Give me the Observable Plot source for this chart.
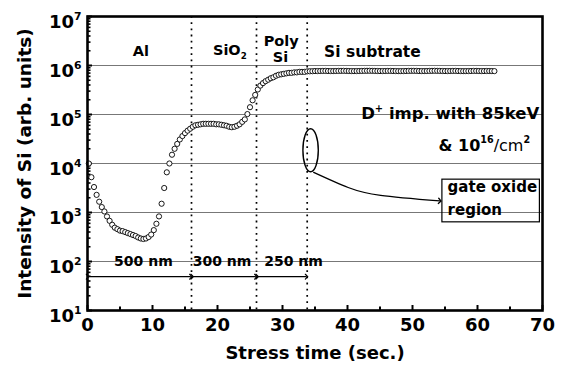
<!DOCTYPE html>
<html><head><meta charset="utf-8">
<script src="https://cdn.jsdelivr.net/npm/d3@7"></script>
<script src="https://cdn.jsdelivr.net/npm/@observablehq/plot@0.6"></script>
<style>
body{margin:0;background:#fff}
#chart svg{display:block}
</style></head><body><div id="chart"></div>
<script>
// Stress time (s) and Si intensity (arb. units)
const times = [0.2,0.6,1.0,1.4,1.8,2.2,2.6,3.0,3.4,3.8,4.2,4.6,5.0,5.4,5.8,6.2,6.6,7.0,7.4,7.8,
8.2,8.6,9.0,9.4,9.8,10.2,10.6,11.0,11.4,11.8,12.2,12.6,13.0,13.4,13.8,14.2,14.6,15.0,15.4,15.8,
16.2,16.6,17.0,17.4,17.8,18.2,18.6,19.0,19.4,19.8,20.2,20.6,21.0,21.4,21.8,22.2,22.6,23.0,23.4,23.8,
24.2,24.6,25.0,25.4,25.8,26.2,26.6,27.0,27.4,27.8,28.2,28.6,29.0,29.4,29.8,30.2,30.6,31.0,31.4,31.8,
32.2,32.6,33.0,33.4,33.8,34.2,34.6,35.0,35.4,35.8,36.2,36.6,37.0,37.4,37.8,38.2,38.6,39.0,39.4,39.8,
40.2,40.6,41.0,41.4,41.8,42.2,42.6,43.0,43.4,43.8,44.2,44.6,45.0,45.4,45.8,46.2,46.6,47.0,47.4,47.8,
48.2,48.6,49.0,49.4,49.8,50.2,50.6,51.0,51.4,51.8,52.2,52.6,53.0,53.4,53.8,54.2,54.6,55.0,55.4,55.8,
56.2,56.6,57.0,57.4,57.8,58.2,58.6,59.0,59.4,59.8,60.2,60.6,61.0,61.4,61.8,62.2,62.6];
const intensity = [10000,5250,3310,2290,1660,1290,1050,830,676,562,490,457,427,417,398,380,363,347,331,309,
295,288,295,316,355,437,589,832,1510,3160,6610,10000,15100,19950,25100,30900,36300,41700,46800,51300,
56200,60300,61700,63100,64600,64600,64600,64600,64600,63100,63100,61700,60300,58900,56200,55000,56200,58900,63100,70800,
79400,102000,141000,195000,251000,324000,389000,437000,479000,513000,550000,575000,617000,646000,661000,676000,692000,708000,708000,724000,
724000,741000,741000,741000,759000,762000,765000,770000,770000,772000,775000,775000,772000,770000,770000,772000,775000,778000,778000,775000,
772000,770000,768000,770000,772000,775000,778000,780000,780000,778000,775000,772000,770000,770000,772000,775000,775000,772000,770000,768000,
768000,770000,772000,775000,778000,778000,775000,772000,770000,770000,772000,775000,778000,780000,778000,775000,772000,770000,770000,772000,
775000,775000,772000,770000,768000,768000,770000,772000,775000,775000,772000,770000,770000,772000,772000,770000,768000];

// axes
const xMajor = [0,10,20,30,40,50,60,70];
const xMinor = [5,15,25,35,45,55,65];
const yMajor = [10,100,1e3,1e4,1e5,1e6,1e7];
const yMinor = [1,2,3,4,5,6].flatMap(e => [2,3,4,5,6,7,8,9].map(k => k * 10 ** e));
const gridValues = [100,1e3,1e4,1e5,1e6];

// layer boundaries and thickness spans
const layerBounds = [16, 26, 33.8];
const spanStart = [0, 16.1, 26.1];
const spanEnd = [15.9, 25.9, 33.7];
const spanLevel = 49;
const spanLabels = ["500 nm", "300 nm", "250 nm"];
const spanLabelX = [8.6, 20.7, 31.7];
const spanLabelY = 98;

// layer names
const layerNames = ["Al", "SiO_{2}", "Poly", "Si"];
const layerX = [8.2, 21.9, 29.8, 29.7];
const layerY = [1.98e6, 2.0e6, 3.15e6, 1.44e6];
const substrateLabel = "Si subtrate";
const substrateX = 36.4, substrateY = 1.86e6;

// implant annotation
const implantLines = ["D^{+} imp. with 85keV", "& 10^{16}~{/cm}^{2}"];
const implantX = [42.1, 54.0];
const implantY = [1.02e5, 23400];

// gate oxide callout
const oxideT = 34.4, oxideV = 18200;
const curveT = [34.8, 40.1, 45.1, 54.2];
const curveV = [6600, 3240, 2240, 1720];
const boxX = [54.6, 69.6], boxY = [630, 4680];
const boxLines = ["gate oxide", "region"];
const boxLineY = [3240, 1100];
const boxTextX = 55.4;

const font = "'DejaVu Sans', Verdana, sans-serif";
const W = 563, H = 372, mL = 87, mR = 21, mT = 16, mB = 62;
const fw = W - mL - mR, fh = H - mT - mB;

const plot = Plot.plot({
  width: W, height: H,
  marginLeft: mL, marginRight: mR, marginTop: mT, marginBottom: mB,
  style: {fontFamily: font, background: "white", color: "black", overflow: "visible"},
  x: {domain: [0, 70]},
  y: {type: "log", domain: [10, 1e7]},
  marks: [
    Plot.ruleY(gridValues, {stroke: "#777", strokeWidth: 1.2}),
    Plot.ruleX(layerBounds, {stroke: "#000", strokeWidth: 1.7, strokeDasharray: "1.8,4.4"}),
    Plot.link(spanStart, {x1: spanStart, x2: spanEnd, y1: () => spanLevel, y2: () => spanLevel,
      stroke: "#000", strokeWidth: 1.2, markerStart: "arrow", markerEnd: "arrow"}),
    Plot.text(spanLabels, {x: spanLabelX, y: () => spanLabelY, fontSize: 14, fontWeight: "bold"}),
    Plot.tickX(xMajor, {x: d => d, insetTop: fh - 5, strokeWidth: 2}),
    Plot.tickX(xMinor, {x: d => d, insetTop: fh - 3.5, strokeWidth: 2}),
    Plot.tickY(yMinor, {y: d => d, insetRight: fw - 3.5, strokeWidth: 1.6}),
    Plot.tickY(yMajor, {y: d => d, insetRight: fw - 5, strokeWidth: 2}),
    Plot.axisX({ticks: xMajor, tickSize: 0, tickPadding: 8, fontSize: 18, fontWeight: "bold", label: null, tickFormat: d => String(d)}),
    Plot.axisY({ticks: yMajor, tickSize: 0, tickPadding: 6, fontSize: 18, fontWeight: "bold", label: null, dy: 6,
      tickFormat: d => `10^{${Math.round(Math.log10(d))}}`}),
    Plot.dot(times, {x: times, y: intensity, r: 2.6, fill: "white", stroke: "black", strokeWidth: 0.9}),
    Plot.text(layerNames, {x: layerX, y: layerY, fontSize: 14.5, fontWeight: "bold"}),
    Plot.text([substrateLabel], {x: [substrateX], y: [substrateY], fontSize: 15.5, fontWeight: "bold", textAnchor: "start"}),
    Plot.text(implantLines, {x: implantX, y: implantY, fontSize: (d, i) => i === 0 ? 16.5 : 16, fontWeight: "bold", textAnchor: "start"}),
    Plot.line(curveT, {x: curveT, y: curveV, curve: "natural", stroke: "#000", strokeWidth: 1.3, markerEnd: "arrow"}),
    Plot.rect([0], {x1: () => boxX[0], x2: () => boxX[1], y1: () => boxY[0], y2: () => boxY[1], fill: "none", stroke: "#000", strokeWidth: 1.2}),
    Plot.text(boxLines, {x: () => boxTextX, y: boxLineY, fontSize: 15, fontWeight: "bold", textAnchor: "start"}),
    (index, scales) => {
      const e = document.createElementNS("http://www.w3.org/2000/svg", "ellipse");
      e.setAttribute("cx", scales.x(oxideT));
      e.setAttribute("cy", scales.y(oxideV));
      e.setAttribute("rx", 7.7);
      e.setAttribute("ry", 21.5);
      e.setAttribute("fill", "none");
      e.setAttribute("stroke", "#000");
      e.setAttribute("stroke-width", 1.4);
      return e;
    },
    Plot.frame({stroke: "#000", strokeWidth: 2.6}),
    Plot.text(["Intensity of Si (arb. units)"], {frameAnchor: "left", textAnchor: "middle", dx: -62, rotate: -90, fontSize: 18.5, fontWeight: "bold"}),
    Plot.text(["Stress time (sec.)"], {frameAnchor: "bottom", textAnchor: "middle", dy: 48, fontSize: 18, fontWeight: "bold"})
  ]
});
document.getElementById("chart").appendChild(plot);

// rich text: ^{sup} _{sub} ~{normal weight}
const NS = "http://www.w3.org/2000/svg";
function rich(el) {
  const s = el.textContent;
  if (!/[\^_~]\{/.test(s)) return;
  const fs = parseFloat(getComputedStyle(el).fontSize) || 16;
  el.textContent = "";
  let cur = 0;
  const add = (txt, want, size, weight) => {
    const t = document.createElementNS(NS, "tspan");
    t.textContent = txt;
    const dy = want - cur;
    if (dy) t.setAttribute("dy", dy);
    cur = want;
    if (size) t.setAttribute("font-size", size);
    if (weight) t.setAttribute("font-weight", weight);
    el.appendChild(t);
  };
  const re = /([\^_~])\{([^}]*)\}/g;
  let last = 0, m;
  while ((m = re.exec(s))) {
    if (m.index > last) add(s.slice(last, m.index), 0);
    if (m[1] === "^") add(m[2], -0.45 * fs, 0.6 * fs);
    else if (m[1] === "_") add(m[2], 0.28 * fs, 0.6 * fs);
    else add(m[2], 0, null, "normal");
    last = re.lastIndex;
  }
  if (last < s.length) add(s.slice(last), 0);
}
plot.querySelectorAll("text").forEach(rich);
</script></body></html>
